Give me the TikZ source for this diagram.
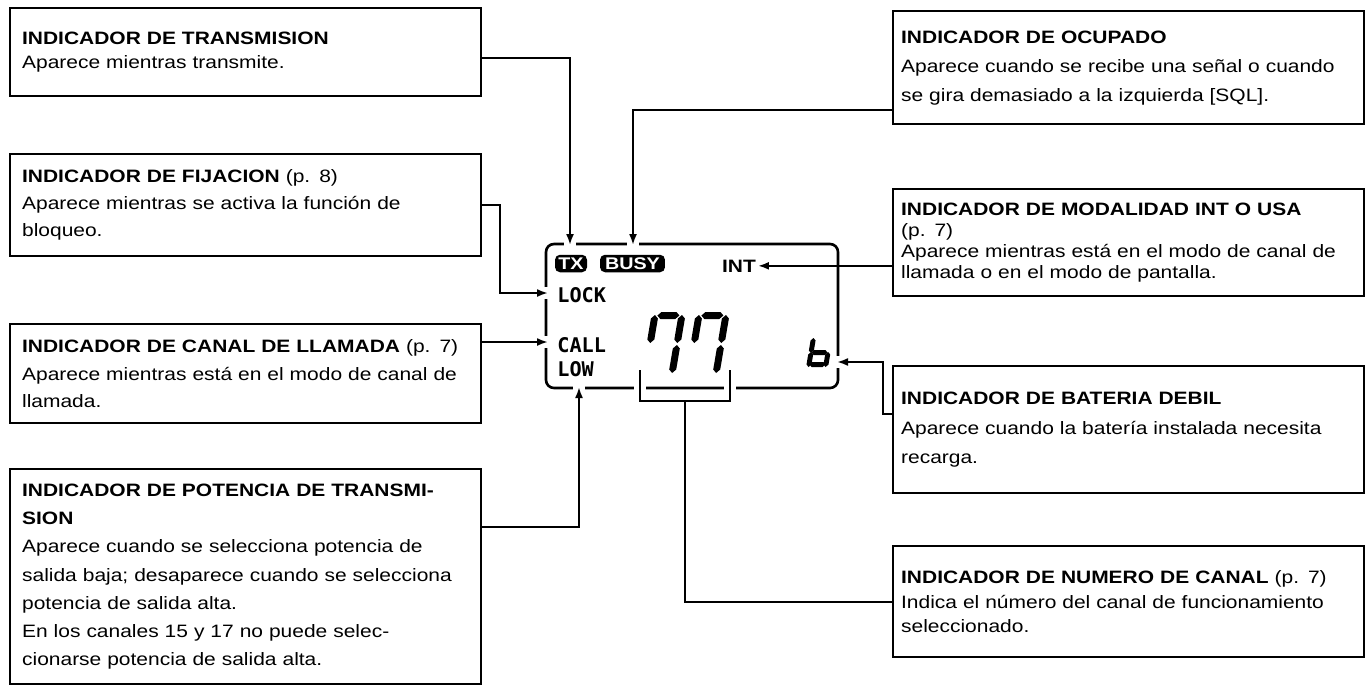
\documentclass[tikz,border=0pt]{standalone}
\usepackage{fontspec}
\newfontfamily\boxfont{Liberation Sans}[FakeStretch=1.17]
\newfontfamily\lcdfont{DejaVu Sans Mono}
\usepackage{tikz}
\usetikzlibrary{arrows.meta,positioning}

\newcommand{\boxtext}[1]{\boxfont\fontsize{10.2}{#1}\selectfont}
\newcommand{\segt}{7}
% LCD segments (x, y, length), y grows downwards
\newcommand{\hseg}[3]{\fill (#1,#2+\segt/2) -- (#1+\segt/2,#2) -- (#1+#3-\segt/2,#2) -- (#1+#3,#2+\segt/2) -- (#1+#3-\segt/2,#2+\segt) -- (#1+\segt/2,#2+\segt) -- cycle;}
\newcommand{\vseg}[3]{\fill (#1+\segt/2,#2) -- (#1+\segt,#2+\segt/2) -- (#1+\segt,#2+#3-\segt/2) -- (#1+\segt/2,#2+#3) -- (#1,#2+#3-\segt/2) -- (#1,#2+\segt/2) -- cycle;}

\begin{document}
\begin{tikzpicture}[x=0.02cm, y=-0.02cm,
    info/.style={draw, line width=1.3pt, anchor=north west, align=left,
                 text width=8.94cm, inner xsep=0.24cm, inner ysep=0pt},
    infor/.style={info, text width=9.1cm, inner xsep=0.16cm},
    conn/.style={-{Latex[length=2.2mm,width=1.6mm]}, line width=1.1pt},
    wire/.style={line width=1.1pt},
    badge/.style={fill=black, text=white, rounded corners=0.1cm, inner sep=0pt,
                  minimum width=0.64cm, minimum height=0.35cm,
                  font=\boxfont\bfseries\fontsize{9.6}{9.6}\selectfont},
    lcd/.style={anchor=base west, inner sep=0pt,
                font=\lcdfont\bfseries\fontsize{11.5}{11.5}\selectfont}]
    \useasboundingbox (0,0) rectangle (1367,687);

    % Left boxes
    \node[info, minimum height=1.76cm, font=\boxtext{13.7}] (txbox) at (9,7)
        {\textbf{INDICADOR DE TRANSMISION}\\Aparece mientras transmite.};
    \node[info, minimum height=2.04cm, font=\boxtext{15.4}] (lockbox) at (9,153)
        {\textbf{INDICADOR DE FIJACION} (p. 8)\\Aparece mientras se activa la función de\\bloqueo.};
    \node[info, minimum height=1.98cm, font=\boxtext{15.4}] (callbox) at (9,323)
        {\textbf{INDICADOR DE CANAL DE LLAMADA} (p. 7)\\Aparece mientras está en el modo de canal de\\llamada.};
    \node[info, minimum height=4.30cm, font=\boxtext{16}] (pwrbox) at (9,468)
        {\textbf{INDICADOR DE POTENCIA DE TRANSMI-}\\\textbf{SION}\\Aparece cuando se selecciona potencia de\\salida baja; desaparece cuando se selecciona\\potencia de salida alta.\\En los canales 15 y 17 no puede selec-\\cionarse potencia de salida alta.};

    % Right boxes
    \node[infor, minimum height=2.26cm, font=\boxtext{16.5}] (busybox) at (892,10)
        {\textbf{INDICADOR DE OCUPADO}\\Aparece cuando se recibe una señal o cuando\\se gira demasiado a la izquierda [SQL].};
    \node[infor, minimum height=2.14cm, font=\boxtext{12}] (intbox) at (892,188)
        {\textbf{INDICADOR DE MODALIDAD INT O USA}\\(p. 7)\\Aparece mientras está en el modo de canal de\\llamada o en el modo de pantalla.};
    \node[infor, minimum height=2.54cm, font=\boxtext{17}] (batbox) at (892,365)
        {\textbf{INDICADOR DE BATERIA DEBIL}\\Aparece cuando la batería instalada necesita\\recarga.};
    \node[infor, minimum height=2.22cm, font=\boxtext{13.7}] (chbox) at (892,545)
        {\textbf{INDICADOR DE NUMERO DE CANAL} (p. 7)\\Indica el número del canal de funcionamiento\\seleccionado.};

    % Display frame with gaps
    \draw[line width=1.5pt, rounded corners=0.16cm] (546,244) rectangle (838,388);
    \foreach \gx/\gy in {570/244, 633/244, 546/293, 546/342, 579/388, 640/388, 730/388, 838/362}
        \fill[white] (\gx-6,\gy-6) rectangle (\gx+6,\gy+6);

    % Display contents
    \node[badge] (txlamp) at (571,263.5) {TX};
    \node[badge, minimum width=1.3cm] (busylamp) at (632.5,263.5) {BUSY};
    \node[anchor=base west, inner sep=1pt, font=\boxfont\bfseries\fontsize{10.2}{10.2}\selectfont] (intlbl) at (720,272) {INT};
    \node[lcd] (locklbl) at (557,302) {LOCK};
    \node[lcd] (calllbl) at (557,352) {CALL};
    \node[lcd] (lowlbl) at (557,376) {LOW};

    % Channel digits
    \foreach \dx in {652,696} {
        \begin{scope}[shift={(\dx,312)}, xslant=0.17]
            \hseg{6}{0}{22}
            \vseg{0}{3}{28}
            \vseg{27}{3}{28}
            \vseg{27}{33}{28}
        \end{scope}
    }
    % Battery sign
    \begin{scope}[shift={(811,338)}, xslant=0.17]
        \renewcommand{\segt}{5}
        \vseg{0}{0}{15}
        \vseg{0}{14}{15}
        \hseg{3}{12}{16}
        \vseg{17}{14}{15}
        \hseg{3}{24}{16}
    \end{scope}

    % Arrow targets
    \coordinate (txin) at (570,245);
    \coordinate (busyin) at (633,245);
    \coordinate (lockin) at (548,293);
    \coordinate (callin) at (548,342);
    \coordinate (lowin) at (579,387);
    \coordinate (batin) at (837,362);
    \coordinate (chsel) at (685,401);

    % Channel bracket
    \draw[wire] (640,370) -- (640,401) -- (730,401) -- (730,370);

    % Connectors
    \draw[conn] (txbox.east |- 0,58) -| (txin);
    \draw[conn] (busybox.west |- 0,110) -| (busyin);
    \draw[conn] (lockbox.east) -- ++(18,0) |- (lockin);
    \draw[conn] (callbox.east |- callin) -- (callin);
    \draw[conn] (pwrbox.east |- 0,527) -| (lowin);
    \draw[conn] (intbox.west |- intlbl) -- (intlbl.east);
    \draw[conn] (batbox.west |- 0,414) -- ++(-9,0) |- (batin);
    \draw[wire] (chbox.west) -| (chsel);
\end{tikzpicture}
\end{document}
